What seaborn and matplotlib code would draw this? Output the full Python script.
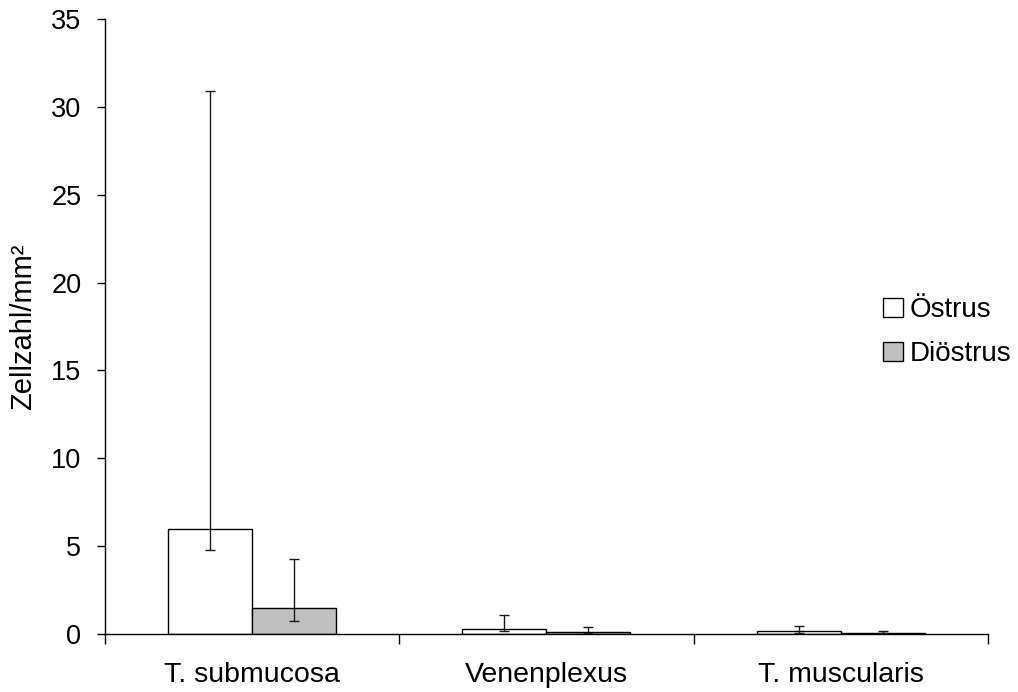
import matplotlib
matplotlib.use("Agg")
import matplotlib.pyplot as plt
import seaborn as sns
import pandas as pd
import numpy as np
from matplotlib.patches import Patch

categories = ["T. submucosa", "Venenplexus", "T. muscularis"]
phases = ["Östrus", "Diöstrus"]
oestrus = [5.96, 0.30, 0.15]
dioestrus = [1.46, 0.13, 0.06]
oestrus_low = [4.80, 0.19, 0.08]
oestrus_high = [30.9, 1.10, 0.48]
dioestrus_low = [0.76, 0.06, 0.03]
dioestrus_high = [4.27, 0.42, 0.19]
colors = ["#FFFFFF", "#C0C0C0"]

sns.set_style("white")
plt.rcParams["font.family"] = ["Liberation Sans", "DejaVu Sans"]
plt.rcParams["text.color"] = "black"
plt.rcParams["axes.labelcolor"] = "black"
plt.rcParams["xtick.color"] = "black"
plt.rcParams["ytick.color"] = "black"

df = pd.DataFrame({
    "Kategorie": categories * 2,
    "Phase": [phases[0]] * 3 + [phases[1]] * 3,
    "Wert": oestrus + dioestrus,
})

fig = plt.figure(figsize=(10.18, 6.92), dpi=100)
ax = fig.add_axes([0.1031, 0.0838, 0.8674, 0.8887])

sns.barplot(data=df, x="Kategorie", y="Wert", hue="Phase", order=categories,
            hue_order=phases, palette=colors, edgecolor="black", linewidth=1,
            width=0.571, errorbar=None, legend=False, ax=ax, saturation=1)

lows = [oestrus_low, dioestrus_low]
highs = [oestrus_high, dioestrus_high]
vals = [oestrus, dioestrus]
bar_containers = list(ax.containers)
for h, cont in enumerate(bar_containers):
    xs = [p.get_x() + p.get_width() / 2 for p in cont.patches]
    v = np.array(vals[h])
    lo = v - np.array(lows[h])
    hi = np.array(highs[h]) - v
    ax.errorbar(xs, v, yerr=[lo, hi], fmt="none", ecolor="#1a1a1a",
                elinewidth=1, capsize=3.6, capthick=1, zorder=5)

ax.set_ylim(0, 35)
ax.set_xlim(-0.5, 2.5)
ax.set_yticks(range(0, 36, 5))
ax.set_xlabel("")
ax.set_ylabel("Zellzahl/mm²", fontsize=21)
ax.yaxis.set_label_coords(-0.077, 0.5)
sns.despine(ax=ax)
for s in ["left", "bottom"]:
    ax.spines[s].set_color("black")
    ax.spines[s].set_linewidth(1)
ax.tick_params(axis="y", which="major", direction="out", length=6, width=1,
               color="black", left=True, labelsize=19.5, pad=11)
ax.tick_params(axis="x", which="major", length=0, labelsize=20.5, pad=20)
ax.set_xticks([-0.5, 0.5, 1.5, 2.5], minor=True)
ax.tick_params(axis="x", which="minor", direction="out", length=7, width=1,
               color="black", bottom=True)

handles = [Patch(facecolor=c, edgecolor="black", linewidth=1) for c in colors]
fig.legend(handles, phases, loc="center left", bbox_to_anchor=(0.843, 0.520),
           frameon=False, fontsize=20, handlelength=0.72, handleheight=0.72,
           handletextpad=0.25, labelspacing=0.65)

fig.savefig("out.png", dpi=100)
